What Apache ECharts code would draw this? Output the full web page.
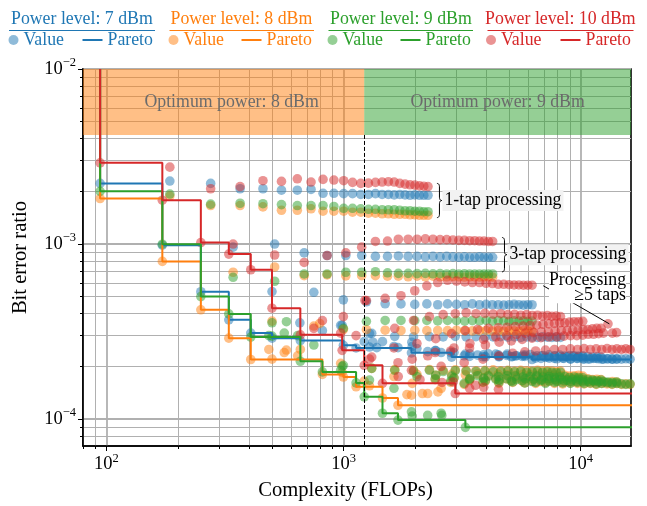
<!DOCTYPE html>
<html>
<head>
<meta charset="utf-8">
<title>Bit error ratio versus complexity</title>
<script src="https://cdn.jsdelivr.net/npm/echarts@6/dist/echarts.min.js"></script>
<style>
  html, body { margin: 0; padding: 0; background: #ffffff; }
  #chart { width: 647px; height: 506px; }
</style>
</head>
<body>
<div id="chart"></div>
<script>
// Complexity (FLOPs) of every equaliser configuration, one list per filter length
const cTap1 = [94, 185, 275, 366, 457, 547, 638, 729, 819, 910, 1001, 1091, 1182, 1273, 1363, 1454, 1545, 1635, 1726, 1817, 1907, 1998, 2089, 2179, 2270];
const cTap3 = [172, 342, 512, 682, 852, 1022, 1192, 1362, 1532, 1702, 1872, 2042, 2212, 2382, 2552, 2722, 2892, 3062, 3232, 3402, 3572, 3742, 3912, 4082, 4252];
const cTap5 = [250, 499, 749, 998, 1248, 1497, 1746, 1996, 2245, 2495, 2744, 2993, 3243, 3492, 3742, 3991, 4240, 4490, 4739, 4989, 5238, 5487, 5737, 5986, 6236];
const cTap7 = [328, 657, 986, 1314, 1643, 1972, 2301, 2630, 2958, 3287, 3616, 3945, 4274, 4602, 4931, 5260, 5589, 5918, 6246, 6575, 6904, 7233, 7562, 7890, 8219];
const cTap9 = [406, 814, 1222, 1631, 2039, 2447, 2855, 3263, 3672, 4080, 4488, 4896, 5304, 5713, 6121, 6529, 6937, 7345, 7754, 8162, 8570, 8978, 9386, 9795, 10203];
const cTap11 = [484, 972, 1459, 1947, 2434, 2922, 3410, 3897, 4385, 4872, 5360, 5848, 6335, 6823, 7310, 7798, 8286, 8773, 9261, 9748, 10236, 10724, 11211, 11699, 12186];
const cTap13 = [562, 1129, 1696, 2263, 2830, 3397, 3964, 4531, 5098, 5665, 6232, 6799, 7366, 7933, 8500, 9067, 9634, 10201, 10768, 11335, 11902, 12469, 13036, 13603, 14170];
const cTap15 = [640, 1286, 1933, 2579, 3226, 3872, 4518, 5165, 5811, 6458, 7104, 7750, 8397, 9043, 9690, 10336, 10982, 11629, 12275, 12922, 13568, 14214, 14861, 15507, 16154];

// Bit error ratio, 7 dBm launch power
const ber7Tap1 = [2.22e-3, 2.29e-3, 2.22e-3, 2.07e-3, 2.07e-3, 2.03e-3, 2.03e-3, 2.05e-3, 1.95e-3, 1.95e-3, 1.94e-3, 1.94e-3, 1.92e-3, 1.92e-3, 1.94e-3, 1.92e-3, 1.92e-3, 1.91e-3, 1.92e-3, 1.91e-3, 1.90e-3, 1.91e-3, 1.90e-3, 1.90e-3, 1.90e-3];
const ber7Tap3 = [9.85e-4, 9.6e-4, 1.0e-3, 8.9e-4, 8.6e-4, 8.6e-4, 8.6e-4, 8.5e-4, 8.5e-4, 8.55e-4, 8.5e-4, 8.5e-4, 8.45e-4, 8.5e-4, 8.45e-4, 8.5e-4, 8.45e-4, 8.4e-4, 8.45e-4, 8.4e-4, 8.4e-4, 8.45e-4, 8.4e-4, 8.4e-4, 8.4e-4];
const ber7Tap5 = [5.34e-4, 2.90e-4, 5.3e-4, 2.64e-4, 4.68e-4, 4.56e-4, 4.55e-4, 4.52e-4, 4.55e-4, 4.5e-4, 4.55e-4, 4.52e-4, 4.5e-4, 4.55e-4, 4.5e-4, 4.52e-4, 4.5e-4, 4.5e-4, 4.48e-4, 4.5e-4, 4.52e-4, 4.5e-4, 4.48e-4, 4.5e-4, 4.5e-4];
const ber7Tap7 = [3.69e-4, 2.81e-4, 3.43e-4, 3.09e-4, 2.97e-4, 2.95e-4, 2.96e-4, 2.95e-4, 2.97e-4, 2.95e-4, 2.96e-4, 2.94e-4, 2.95e-4, 2.96e-4, 2.94e-4, 2.95e-4, 2.93e-4, 2.95e-4, 2.94e-4, 2.93e-4, 2.95e-4, 2.94e-4, 2.93e-4, 2.94e-4, 2.93e-4];
const ber7Tap9 = [3.10e-4, 3.2e-4, 2.77e-4, 2.6e-4, 2.53e-4, 2.46e-4, 2.26e-4, 2.35e-4, 2.32e-4, 2.36e-4, 2.33e-4, 2.35e-4, 2.3e-4, 2.32e-4, 2.34e-4, 2.3e-4, 2.31e-4, 2.33e-4, 2.3e-4, 2.32e-4, 2.29e-4, 2.31e-4, 2.3e-4, 2.29e-4, 2.3e-4];
const ber7Tap11 = [null, 3.43e-4, 2.77e-4, 2.6e-4, 2.46e-4, 2.4e-4, 2.36e-4, 2.33e-4, 2.35e-4, 2.31e-4, 2.3e-4, 2.32e-4, 2.28e-4, 2.3e-4, 2.27e-4, 2.29e-4, 2.28e-4, 2.27e-4, 2.29e-4, 2.27e-4, 2.26e-4, 2.28e-4, 2.26e-4, 2.27e-4, 2.26e-4];
const ber7Tap13 = [null, 2.55e-4, 2.56e-4, 2.43e-4, 2.4e-4, 2.28e-4, 2.27e-4, 2.28e-4, 2.27e-4, 2.28e-4, 2.19e-4, 2.22e-4, 2.23e-4, 2.21e-4, 2.22e-4, 2.2e-4, 2.22e-4, 2.21e-4, 2.2e-4, 2.22e-4, 2.21e-4, 2.2e-4, 2.21e-4, 2.2e-4, 2.2e-4];
const ber7Tap15 = [null, 2.58e-4, 2.39e-4, 2.4e-4, 2.3e-4, 2.27e-4, 2.27e-4, 2.28e-4, 2.28e-4, 2.23e-4, 2.25e-4, 2.22e-4, 2.23e-4, 2.21e-4, 2.22e-4, 2.2e-4, 2.21e-4, 2.22e-4, 2.2e-4, 2.21e-4, 2.2e-4, 2.21e-4, 2.2e-4, 2.21e-4, 2.2e-4];
const ber7Other = [[998, 4.8e-4], [499, 5.35e-4], [654, 3.55e-4], [1286, 3.08e-4], [1330, 2.75e-4], [1380, 2.56e-4], [1940, 2.75e-4]];

// Bit error ratio, 8 dBm launch power
const ber8Tap1 = [1.82e-3, 1.88e-3, 1.66e-3, 1.66e-3, 1.63e-3, 1.56e-3, 1.56e-3, 1.59e-3, 1.54e-3, 1.54e-3, 1.54e-3, 1.52e-3, 1.52e-3, 1.50e-3, 1.50e-3, 1.49e-3, 1.49e-3, 1.48e-3, 1.48e-3, 1.48e-3, 1.47e-3, 1.47e-3, 1.46e-3, 1.46e-3, 1.46e-3];
const ber8Tap3 = [7.96e-4, 6.9e-4, 7.4e-4, 6.6e-4, 6.67e-4, 6.58e-4, 6.6e-4, 6.6e-4, 6.55e-4, 6.55e-4, 6.5e-4, 6.55e-4, 6.5e-4, 6.55e-4, 6.5e-4, 6.5e-4, 6.52e-4, 6.5e-4, 6.48e-4, 6.5e-4, 6.5e-4, 6.48e-4, 6.5e-4, 6.5e-4, 6.48e-4];
const ber8Tap5 = [4.21e-4, 2.2e-4, 3.4e-4, 1.74e-4, 3.24e-4, 3.22e-4, 3.2e-4, 3.22e-4, 3.2e-4, 3.21e-4, 3.2e-4, 3.22e-4, 3.2e-4, 3.19e-4, 3.2e-4, 3.21e-4, 3.19e-4, 3.2e-4, 3.18e-4, 3.2e-4, 3.19e-4, 3.18e-4, 3.2e-4, 3.19e-4, 3.18e-4];
const ber8Tap7 = [2.90e-4, 2.5e-4, 1.85e-4, 1.95e-4, 1.92e-4, 1.9e-4, 1.92e-4, 1.9e-4, 1.91e-4, 1.9e-4, 1.89e-4, 1.9e-4, 1.91e-4, 1.89e-4, 1.9e-4, 1.88e-4, 1.9e-4, 1.89e-4, 1.88e-4, 1.9e-4, 1.88e-4, 1.89e-4, 1.88e-4, 1.87e-4, 1.88e-4];
const ber8Tap9 = [2.19e-4, 1.80e-4, 1.65e-4, 1.75e-4, 1.8e-4, 1.78e-4, 1.8e-4, 1.79e-4, 1.81e-4, 1.78e-4, 1.8e-4, 1.79e-4, 1.78e-4, 1.8e-4, 1.79e-4, 1.78e-4, 1.77e-4, 1.79e-4, 1.78e-4, 1.77e-4, 1.78e-4, 1.76e-4, 1.77e-4, 1.78e-4, 1.76e-4];
const ber8Tap11 = [2.5e-4, 2.08e-4, 1.32e-4, 1.6e-4, 1.68e-4, 1.72e-4, 1.7e-4, 1.72e-4, 1.71e-4, 1.7e-4, 1.72e-4, 1.7e-4, 1.69e-4, 1.71e-4, 1.7e-4, 1.69e-4, 1.7e-4, 1.68e-4, 1.7e-4, 1.69e-4, 1.68e-4, 1.7e-4, 1.68e-4, 1.69e-4, 1.68e-4];
const ber8Tap13 = [2.4e-4, 1.53e-4, 1.20e-4, 1.4e-4, 1.62e-4, 1.66e-4, 1.65e-4, 1.67e-4, 1.66e-4, 1.65e-4, 1.66e-4, 1.64e-4, 1.65e-4, 1.66e-4, 1.64e-4, 1.65e-4, 1.63e-4, 1.65e-4, 1.64e-4, 1.63e-4, 1.64e-4, 1.63e-4, 1.62e-4, 1.64e-4, 1.63e-4];
const ber8Tap15 = [2.3e-4, 1.55e-4, 1.37e-4, 1.5e-4, 1.58e-4, 1.62e-4, 1.6e-4, 1.62e-4, 1.61e-4, 1.6e-4, 1.62e-4, 1.6e-4, 1.59e-4, 1.61e-4, 1.6e-4, 1.59e-4, 1.6e-4, 1.58e-4, 1.6e-4, 1.59e-4, 1.58e-4, 1.6e-4, 1.58e-4, 1.59e-4, 1.58e-4];
const ber8Other = [[998, 3.25e-4], [574, 2.48e-4], [793, 3.52e-4], [499, 3.63e-4], [1850, 1.38e-4], [2150, 1.4e-4], [2500, 1.43e-4]];

// Bit error ratio, 9 dBm launch power
const ber9Tap1 = [2.00e-3, 1.93e-3, 1.69e-3, 1.71e-3, 1.70e-3, 1.68e-3, 1.66e-3, 1.66e-3, 1.66e-3, 1.64e-3, 1.60e-3, 1.60e-3, 1.59e-3, 1.58e-3, 1.58e-3, 1.57e-3, 1.57e-3, 1.57e-3, 1.56e-3, 1.55e-3, 1.55e-3, 1.54e-3, 1.54e-3, 1.53e-3, 1.53e-3];
const ber9Tap3 = [9.98e-4, 6.46e-4, 6.13e-4, 6.75e-4, 6.75e-4, 6.9e-4, 6.9e-4, 6.95e-4, 6.85e-4, 6.8e-4, 6.8e-4, 6.78e-4, 6.8e-4, 6.76e-4, 6.78e-4, 6.75e-4, 6.78e-4, 6.75e-4, 6.76e-4, 6.75e-4, 6.74e-4, 6.75e-4, 6.73e-4, 6.74e-4, 6.75e-4];
const ber9Tap5 = [5.01e-4, 2.98e-4, 2.65e-4, 3.3e-4, 3.62e-4, 3.66e-4, 3.66e-4, 3.65e-4, 3.66e-4, 3.64e-4, 3.66e-4, 3.65e-4, 3.63e-4, 3.65e-4, 3.64e-4, 3.66e-4, 3.63e-4, 3.65e-4, 3.64e-4, 3.62e-4, 3.64e-4, 3.63e-4, 3.64e-4, 3.62e-4, 3.63e-4];
const ber9Tap7 = [3.99e-4, 2.14e-4, 2.0e-4, 1.95e-4, 1.9e-4, 1.88e-4, 1.9e-4, 1.87e-4, 1.89e-4, 1.88e-4, 1.87e-4, 1.88e-4, 1.86e-4, 1.87e-4, 1.88e-4, 1.86e-4, 1.87e-4, 1.85e-4, 1.86e-4, 1.87e-4, 1.85e-4, 1.86e-4, 1.85e-4, 1.84e-4, 1.85e-4];
const ber9Tap9 = [2.94e-4, 1.86e-4, 1.34e-4, 1.5e-4, 1.75e-4, 1.78e-4, 1.76e-4, 8.97e-5, 1.77e-4, 1.76e-4, 1.75e-4, 1.77e-4, 1.76e-4, 1.74e-4, 1.75e-4, 1.76e-4, 1.74e-4, 1.75e-4, 1.73e-4, 1.74e-4, 1.75e-4, 1.73e-4, 1.74e-4, 1.73e-4, 1.72e-4];
const ber9Tap11 = [3.0e-4, 1.9e-4, 1.08e-4, 1.04e-4, 1.7e-4, 1.72e-4, 1.7e-4, 1.71e-4, 1.69e-4, 1.7e-4, 1.68e-4, 1.7e-4, 1.69e-4, 1.68e-4, 1.7e-4, 1.68e-4, 1.69e-4, 1.67e-4, 1.68e-4, 1.69e-4, 1.67e-4, 1.68e-4, 1.67e-4, 1.66e-4, 1.67e-4];
const ber9Tap13 = [3.1e-4, 1.61e-4, 9.87e-5, 1.05e-4, 1.65e-4, 1.68e-4, 1.66e-4, 1.67e-4, 1.65e-4, 1.66e-4, 1.64e-4, 1.66e-4, 1.65e-4, 1.64e-4, 1.66e-4, 1.64e-4, 1.65e-4, 1.63e-4, 1.64e-4, 1.65e-4, 1.63e-4, 1.64e-4, 1.63e-4, 1.62e-4, 1.63e-4];
const ber9Tap15 = [3.0e-4, 1.67e-4, 1.1e-4, 1.08e-4, 1.6e-4, 1.63e-4, 1.62e-4, 1.63e-4, 1.61e-4, 1.62e-4, 1.6e-4, 1.62e-4, 1.61e-4, 1.6e-4, 1.62e-4, 1.6e-4, 1.61e-4, 1.59e-4, 1.6e-4, 1.61e-4, 1.59e-4, 1.6e-4, 1.59e-4, 1.58e-4, 1.59e-4];
const ber9Other = [[2596, 1.05e-4], [499, 3.55e-4], [574, 3.6e-4], [998, 2.03e-4]];

// Bit error ratio, 10 dBm launch power
const ber10Tap1 = [2.91e-3, 2.75e-3, 2.07e-3, 2.13e-3, 2.30e-3, 2.28e-3, 2.36e-3, 2.26e-3, 2.34e-3, 2.32e-3, 2.30e-3, 2.25e-3, 2.22e-3, 2.23e-3, 2.25e-3, 2.26e-3, 2.27e-3, 2.26e-3, 2.22e-3, 2.20e-3, 2.18e-3, 2.17e-3, 2.15e-3, 2.14e-3, 2.13e-3];
const ber10Tap3 = [1.78e-3, 1.0e-3, 8.66e-4, 7.85e-4, 8.6e-4, 8.9e-4, 9.6e-4, 1.035e-3, 1.04e-3, 1.065e-3, 1.065e-3, 1.065e-3, 1.07e-3, 1.065e-3, 1.06e-3, 1.06e-3, 1.055e-3, 1.05e-3, 1.05e-3, 1.045e-3, 1.045e-3, 1.04e-3, 1.04e-3, 1.035e-3, 1.035e-3];
const ber10Tap5 = [1.02e-3, 4.30e-4, 3.3e-4, 3.85e-4, 4.76e-4, 4.9e-4, 5.07e-4, 5.41e-4, 5.77e-4, 6.03e-4, 6.21e-4, 6.15e-4, 6.08e-4, 6.03e-4, 6.03e-4, 5.97e-4, 5.95e-4, 5.89e-4, 5.89e-4, 5.86e-4, 5.84e-4, 5.84e-4, 5.82e-4, 5.82e-4, 5.82e-4];
const ber10Tap7 = [8.76e-4, 3.03e-4, 2.47e-4, 2.26e-4, 3.3e-4, 3.66e-4, 3.85e-4, 3.95e-4, 1.40e-4, 4.05e-4, 4.0e-4, 4.02e-4, 3.98e-4, 4.0e-4, 3.95e-4, 3.97e-4, 3.92e-4, 3.95e-4, 3.9e-4, 3.92e-4, 3.88e-4, 3.9e-4, 3.86e-4, 3.88e-4, 3.85e-4];
const ber10Tap9 = [7.13e-4, 3.65e-4, 2.03e-4, 2.55e-4, 2.7e-4, 2.88e-4, 3.08e-4, 3.2e-4, 3.25e-4, 3.3e-4, 3.32e-4, 3.35e-4, 3.38e-4, 3.4e-4, 3.42e-4, 3.45e-4, 3.48e-4, 3.5e-4, 3.52e-4, 3.55e-4, 3.55e-4, 3.58e-4, 3.6e-4, 3.6e-4, 3.62e-4];
const ber10Tap11 = [null, 3.1e-4, 1.60e-4, 2.2e-4, 2.4e-4, 2.55e-4, 2.7e-4, 2.85e-4, 2.95e-4, 3.0e-4, 3.05e-4, 3.1e-4, 3.12e-4, 3.15e-4, 3.15e-4, 3.18e-4, 3.2e-4, 3.2e-4, 3.22e-4, 3.22e-4, 3.25e-4, 3.25e-4, 3.28e-4, 3.3e-4, 3.3e-4];
const ber10Tap13 = [null, 3.0e-4, 2.1e-4, 2.3e-4, 2.45e-4, 2.55e-4, 2.65e-4, 2.75e-4, 2.8e-4, 2.85e-4, 2.9e-4, 2.92e-4, 2.95e-4, 2.95e-4, 2.98e-4, 3.0e-4, 3.0e-4, 3.02e-4, 3.05e-4, 3.05e-4, 3.08e-4, 3.1e-4, 3.5e-4, 3.1e-4, 3.12e-4];
const ber10Tap15 = [null, 2.2e-4, 1.9e-4, 2.0e-4, 2.1e-4, 2.2e-4, 2.3e-4, 2.38e-4, 2.42e-4, 2.45e-4, 2.48e-4, 2.5e-4, 2.5e-4, 2.52e-4, 2.5e-4, 2.53e-4, 2.5e-4, 2.52e-4, 2.5e-4, 2.53e-4, 2.5e-4, 2.52e-4, 2.5e-4, 2.52e-4, 2.5e-4];
const ber10Other = [[2958, 4.0e-4], [3400, 1.5e-4], [3900, 1.52e-4], [4500, 1.48e-4], [2600, 1.62e-4], [2900, 1.63e-4], [3600, 1.56e-4], [1230, 4.76e-4], [1700, 1.75e-4], [2100, 1.68e-4]];

// Axis ranges and tick positions
const X_MIN = 79.6, X_MAX = 16300;
const Y_MIN = 7.02e-5, Y_MAX = 1e-2;
const xMajorTicks = [100, 1000, 10000];
const xMinorTicks = [80, 90, 200, 300, 400, 500, 600, 700, 800, 900, 2000, 3000, 4000, 5000, 6000, 7000, 8000, 9000];
const yMajorTicks = [1e-4, 1e-3, 1e-2];
const yMinorTicks = [8e-5, 9e-5, 2e-4, 3e-4, 4e-4, 5e-4, 6e-4, 7e-4, 8e-4, 9e-4, 2e-3, 3e-3, 4e-3, 5e-3, 6e-3, 7e-3, 8e-3, 9e-3];

// Shaded "optimum power" regions
const bandLowerBer = 4.2e-3;
const bandSplit = 1222;

const FONT = '"Liberation Serif", "Times New Roman", Times, serif';

const levels = [
  { label: '7 dBm', color: '#1f77b4',
    tracks: [[cTap1, ber7Tap1], [cTap3, ber7Tap3], [cTap5, ber7Tap5], [cTap7, ber7Tap7], [cTap9, ber7Tap9], [cTap11, ber7Tap11], [cTap13, ber7Tap13], [cTap15, ber7Tap15]],
    other: ber7Other },
  { label: '8 dBm', color: '#ff7f0e',
    tracks: [[cTap1, ber8Tap1], [cTap3, ber8Tap3], [cTap5, ber8Tap5], [cTap7, ber8Tap7], [cTap9, ber8Tap9], [cTap11, ber8Tap11], [cTap13, ber8Tap13], [cTap15, ber8Tap15]],
    other: ber8Other },
  { label: '9 dBm', color: '#2ca02c',
    tracks: [[cTap1, ber9Tap1], [cTap3, ber9Tap3], [cTap5, ber9Tap5], [cTap7, ber9Tap7], [cTap9, ber9Tap9], [cTap11, ber9Tap11], [cTap13, ber9Tap13], [cTap15, ber9Tap15]],
    other: ber9Other },
  { label: '10 dBm', color: '#d62728',
    tracks: [[cTap1, ber10Tap1], [cTap3, ber10Tap3], [cTap5, ber10Tap5], [cTap7, ber10Tap7], [cTap9, ber10Tap9], [cTap11, ber10Tap11], [cTap13, ber10Tap13], [cTap15, ber10Tap15]],
    other: ber10Other }
];

// Legend block layout (pixels): title start, underline span, entry positions
const legendBlocks = [
  { titleX: 11, line: [9, 155], valueLeft: 8.5, paretoLeft: 82.5 },
  { titleX: 170.5, line: [169.5, 314], valueLeft: 168.5, paretoLeft: 241.5 },
  { titleX: 330, line: [328.5, 473], valueLeft: 327.5, paretoLeft: 400.5 },
  { titleX: 485, line: [487.5, 633.5], valueLeft: 486, paretoLeft: 560.5 }
];

function collectPoints(level) {
  const pts = [];
  level.tracks.forEach(([cs, bs]) => {
    cs.forEach((c, i) => { if (bs[i] != null) pts.push([c, bs[i]]); });
  });
  level.other.forEach(p => pts.push(p));
  return pts;
}

// Lower envelope: every point that beats all cheaper configurations
function paretoFront(points) {
  const sorted = points.slice().sort((a, b) => a[0] - b[0] || a[1] - b[1]);
  const front = [];
  let best = Infinity;
  sorted.forEach(p => { if (p[1] < best) { front.push(p); best = p[1]; } });
  return front;
}

function powerLabel(v) {
  const e = Math.round(Math.log10(v));
  return '{b|10}{s|' + (e < 0 ? '\u2212' : '') + Math.abs(e) + '}';
}
const tickRich = {
  b: { fontSize: 18.5, fontFamily: FONT, color: '#000' },
  s: { fontSize: 12.5, fontFamily: FONT, color: '#000', padding: [0, 0, 12, 0] }
};

const series = [];

// Shaded regions and the dashed boundary between them
series.push({
  type: 'scatter', name: 'regions', data: [], z: 1, silent: true,
  markArea: {
    silent: true,
    label: { show: true, position: 'inside', color: '#6b6b6b', fontSize: 17.8, fontFamily: FONT },
    data: [
      [{ name: 'Optimum power: 8 dBm', xAxis: X_MIN, yAxis: bandLowerBer,
         itemStyle: { color: 'rgba(255,127,14,0.5)', opacity: 1 }, label: { offset: [8, 0] } },
       { xAxis: bandSplit, yAxis: Y_MAX }],
      [{ name: 'Optimum power: 9 dBm', xAxis: bandSplit, yAxis: bandLowerBer,
         itemStyle: { color: 'rgba(44,160,44,0.5)', opacity: 1 } },
       { xAxis: X_MAX, yAxis: Y_MAX }]
    ]
  },
  markLine: {
    silent: true, symbol: 'none', label: { show: false },
    lineStyle: { color: '#000', width: 1, type: [4, 2] },
    data: [[{ coord: [bandSplit, bandLowerBer] }, { coord: [bandSplit, Y_MIN] }]]
  }
});

const fronts = [];
levels.forEach(level => {
  const pts = collectPoints(level);
  series.push({
    type: 'scatter', name: 'Value|' + level.label, data: pts,
    symbol: 'circle', symbolSize: 9.6, z: 3, silent: true,
    itemStyle: { color: level.color, opacity: 0.5 }
  });
  fronts.push({ level, front: paretoFront(pts) });
});
fronts.forEach(({ level, front }) => {
  const last = front[front.length - 1];
  const stepData = [[front[0][0], Y_MAX]].concat(front, [[X_MAX * 1.5, last[1]]]);
  series.push({
    type: 'line', name: 'Pareto|' + level.label, data: stepData, step: 'end',
    symbol: 'none', showSymbol: false, z: 4, silent: true, clip: true,
    lineStyle: { color: level.color, width: 2 }, itemStyle: { color: level.color }
  });
});

const legends = [];
levels.forEach((level, i) => {
  const b = legendBlocks[i];
  const common = {
    top: 31, padding: 0, selectedMode: false,
    formatter: n => n.split('|')[0],
    textStyle: { color: level.color, fontSize: 17.8, fontFamily: FONT }
  };
  legends.push(Object.assign({}, common, { left: b.valueLeft, itemWidth: 10, itemHeight: 10,
    data: [{ name: 'Value|' + level.label, icon: 'circle' }] }));
  legends.push(Object.assign({}, common, { left: b.paretoLeft, itemWidth: 20, itemHeight: 2,
    data: [{ name: 'Pareto|' + level.label, icon: 'rect', itemStyle: { color: level.color, opacity: 1 } }] }));
});

const majorSplit = { show: true, lineStyle: { color: '#b0b0b0', width: 1.8 } };
const minorSplit = { show: true, lineStyle: { color: '#b0b0b0', width: 1 } };

const option = {
  animation: false,
  backgroundColor: '#ffffff',
  grid: { left: 83, top: 69, right: 16, bottom: 58, show: true, borderColor: '#000', borderWidth: 1.6 },
  legend: legends,
  xAxis: [
    { type: 'log', logBase: 10, min: X_MIN, max: X_MAX, position: 'bottom',
      axisLine: { show: true, lineStyle: { color: '#000', width: 1.6 } },
      axisTick: { show: true, length: 5, customValues: xMajorTicks, lineStyle: { color: '#000', width: 1 } },
      axisLabel: { customValues: xMajorTicks, formatter: powerLabel, rich: tickRich, margin: 6 },
      splitLine: majorSplit,
      name: 'Complexity (FLOPs)', nameLocation: 'middle', nameGap: 34,
      nameTextStyle: { fontSize: 20.6, fontFamily: FONT, color: '#000', padding: [0, 23, 0, 0] } },
    { type: 'log', logBase: 10, min: X_MIN, max: X_MAX, position: 'bottom',
      axisLine: { show: false },
      axisTick: { show: true, length: 3, customValues: xMinorTicks, lineStyle: { color: '#000', width: 1 } },
      axisLabel: { show: false }, splitLine: Object.assign({}, minorSplit) }
  ],
  yAxis: [
    { type: 'log', logBase: 10, min: Y_MIN, max: Y_MAX, position: 'left',
      axisLine: { show: true, lineStyle: { color: '#000', width: 1.6 } },
      axisTick: { show: true, length: 5, customValues: yMajorTicks, lineStyle: { color: '#000', width: 1 } },
      axisLabel: { customValues: yMajorTicks, formatter: powerLabel, rich: tickRich, margin: 7 },
      splitLine: majorSplit,
      name: 'Bit error ratio', nameLocation: 'middle', nameGap: 52, nameRotate: 90,
      nameTextStyle: { fontSize: 20.6, fontFamily: FONT, color: '#000' } },
    { type: 'log', logBase: 10, min: Y_MIN, max: Y_MAX, position: 'left',
      axisLine: { show: false },
      axisTick: { show: true, length: 3, customValues: yMinorTicks, lineStyle: { color: '#000', width: 1 } },
      axisLabel: { show: false }, splitLine: Object.assign({}, minorSplit) }
  ],
  series: series
};

const chart = echarts.init(document.getElementById('chart'), null, { renderer: 'canvas', width: 647, height: 506 });
chart.setOption(option);

// Annotations anchored in data coordinates
const px = (c, b) => chart.convertToPixel({ gridIndex: 0 }, [c, b]);

// Curly brace opening to the left, sampled as a polyline
function bracePoints(x, y1, y2, w) {
  const ym = (y1 + y2) / 2, r = 3.5;
  const pts = [];
  const quad = (p0, p1, p2) => {
    for (let i = 0; i <= 8; i++) {
      const t = i / 8, u = 1 - t;
      pts.push([u * u * p0[0] + 2 * u * t * p1[0] + t * t * p2[0], u * u * p0[1] + 2 * u * t * p1[1] + t * t * p2[1]]);
    }
  };
  quad([x, y1], [x + w, y1], [x + w, y1 + r]);
  quad([x + w, ym - r], [x + w, ym], [x + 2 * w, ym]);
  quad([x + 2 * w, ym], [x + w, ym], [x + w, ym + r]);
  quad([x + w, y2 - r], [x + w, y2], [x, y2]);
  return pts;
}

const graphics = [];
levels.forEach((level, i) => {
  const b = legendBlocks[i];
  graphics.push({ type: 'text', z: 100, x: b.titleX, y: 19,
    style: { text: 'Power level: ' + level.label, fill: level.color, fontSize: 17.8, fontFamily: FONT, align: 'left', verticalAlign: 'middle' } });
  graphics.push({ type: 'line', z: 100, shape: { x1: b.line[0], y1: 30.5, x2: b.line[1], y2: 30.5 },
    style: { stroke: level.color, lineWidth: 1 } });
});

const groupNotes = [
  { text: '1-tap processing', c: 2476, berTop: 2.22e-3, berBottom: 1.416e-3 },
  { text: '3-tap processing', c: 4656, berTop: 1.09e-3, berBottom: 6.94e-4 }
];
groupNotes.forEach(n => {
  const top = px(n.c, n.berTop), bottom = px(n.c, n.berBottom);
  graphics.push({ type: 'polyline', z: 100, shape: { points: bracePoints(top[0], top[1], bottom[1], 2.5) },
    style: { stroke: '#000', fill: null, lineWidth: 1 } });
  graphics.push({ type: 'text', z: 100, x: top[0] + 5.5, y: (top[1] + bottom[1]) / 2,
    style: { text: n.text, fill: '#000', fontSize: 17.8, fontFamily: FONT, align: 'left', verticalAlign: 'middle',
      backgroundColor: '#f2f2f2', padding: [2, 2, 1, 2] } });
});

const procAnchor = px(15530, 5.6e-4);
const procFrom = px(6950, 5.78e-4), procTo = px(13210, 3.5e-4);
graphics.push({ type: 'line', z: 99, shape: { x1: procFrom[0], y1: procFrom[1], x2: procTo[0], y2: procTo[1] },
  style: { stroke: '#000', lineWidth: 1 } });
graphics.push({ type: 'text', z: 100, x: procAnchor[0], y: procAnchor[1],
  style: { text: 'Processing\n\u22655 taps', fill: '#000', fontSize: 17.8, fontFamily: FONT, align: 'right', verticalAlign: 'middle',
    lineHeight: 15, backgroundColor: '#ffffff' } });

chart.setOption({ graphic: graphics });
</script>
</body>
</html>
